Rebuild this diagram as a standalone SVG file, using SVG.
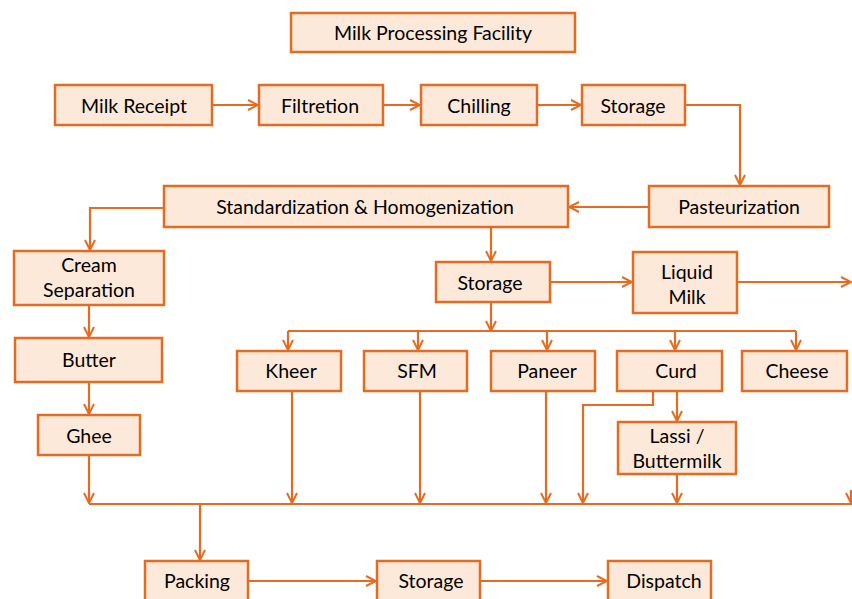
<svg xmlns="http://www.w3.org/2000/svg" width="852" height="599" viewBox="0 0 852 599">
  <defs>
    <marker id="arr" viewBox="0 0 12 12" refX="11" refY="6" markerWidth="12" markerHeight="12" markerUnits="userSpaceOnUse" orient="auto">
      <path d="M1,1 L11,6 L1,11" fill="none" stroke="#E46C22" stroke-width="2"/>
    </marker>
    <style>
      .box { fill: #FDE9D9; stroke: #E46C22; stroke-width: 2.5; }
      .lbl { font-family: Lato, "Open Sans", "Liberation Sans", sans-serif; font-size: 19.5px; fill: #000; text-anchor: middle; dominant-baseline: central; }
      .ln { fill: none; stroke: #E46C22; stroke-width: 2.2; }
      .ar { fill: none; stroke: #E46C22; stroke-width: 2.2; marker-end: url(#arr); }
    </style>
  </defs>
  <rect width="852" height="599" fill="#ffffff"/>

  <g id="connectors">
    <!-- intake line -->
    <path class="ar" d="M212,105 H258"/>
    <path class="ar" d="M383,105 H420"/>
    <path class="ar" d="M537,105 H581"/>
    <path class="ar" d="M685,105 H740 V185"/>
    <path class="ar" d="M649,207 H569"/>
    <!-- cream branch -->
    <path class="ar" d="M164,208 H90 V250"/>
    <path class="ar" d="M89,305 V337"/>
    <path class="ar" d="M89,382 V414"/>
    <path class="ar" d="M89,455 V503"/>
    <!-- milk branch -->
    <path class="ar" d="M491,227 V261"/>
    <path class="ar" d="M550,282 H632"/>
    <path class="ar" d="M737,282 H851"/>
    <path class="ar" d="M491,302 V331"/>
    <path class="ln" d="M288,331 H796"/>
    <path class="ar" d="M288,331 V350"/>
    <path class="ar" d="M418,331 V350"/>
    <path class="ar" d="M547,331 V350"/>
    <path class="ar" d="M675,331 V350"/>
    <path class="ar" d="M796,331 V350"/>
    <!-- product drops to collector -->
    <path class="ar" d="M292,391 V503"/>
    <path class="ar" d="M420,391 V503"/>
    <path class="ar" d="M546,391 V503"/>
    <path class="ar" d="M653,391 V405 H583 V503"/>
    <path class="ar" d="M677,391 V421"/>
    <path class="ar" d="M677,474 V503"/>
    <path class="ar" d="M851,490 V503"/>
    <!-- collector and dispatch line -->
    <path class="ln" d="M89,504 H852"/>
    <path class="ar" d="M200,504 V560"/>
    <path class="ar" d="M248,581 H376"/>
    <path class="ar" d="M480,581 H607"/>
  </g>

  <g id="title"><rect class="box" x="291" y="13" width="284" height="39"/><text class="lbl" x="433" y="32">Milk Processing Facility</text></g>
  <g id="milk-receipt"><rect class="box" x="55" y="85" width="157" height="40"/><text class="lbl" x="134" y="105">Milk Receipt</text></g>
  <g id="filtretion"><rect class="box" x="259" y="85" width="124" height="40"/><text class="lbl" x="320" y="105">Filtretion</text></g>
  <g id="chilling"><rect class="box" x="421" y="85" width="116" height="40"/><text class="lbl" x="479" y="105">Chilling</text></g>
  <g id="storage-1"><rect class="box" x="582" y="85" width="103" height="40"/><text class="lbl" x="633" y="105">Storage</text></g>
  <g id="pasteurization"><rect class="box" x="649" y="186" width="180" height="41"/><text class="lbl" x="739" y="206">Pasteurization</text></g>
  <g id="standardization"><rect class="box" x="164" y="186" width="404" height="41"/><text class="lbl" x="365" y="206">Standardization &amp; Homogenization</text></g>
  <g id="cream-separation"><rect class="box" x="14" y="251" width="150" height="54"/><text class="lbl" x="89" y="264">Cream</text><text class="lbl" x="89" y="289">Separation</text></g>
  <g id="butter"><rect class="box" x="15" y="338" width="147" height="44"/><text class="lbl" x="89" y="359">Butter</text></g>
  <g id="ghee"><rect class="box" x="38" y="415" width="102" height="40"/><text class="lbl" x="89" y="435">Ghee</text></g>
  <g id="storage-2"><rect class="box" x="436" y="262" width="114" height="40"/><text class="lbl" x="490" y="282">Storage</text></g>
  <g id="liquid-milk"><rect class="box" x="633" y="252" width="104" height="61"/><text class="lbl" x="687" y="271">Liquid</text><text class="lbl" x="687" y="296">Milk</text></g>
  <g id="kheer"><rect class="box" x="237" y="351" width="104" height="40"/><text class="lbl" x="291" y="370">Kheer</text></g>
  <g id="sfm"><rect class="box" x="364" y="351" width="103" height="40"/><text class="lbl" x="417" y="370">SFM</text></g>
  <g id="paneer"><rect class="box" x="491" y="351" width="104" height="40"/><text class="lbl" x="547" y="370">Paneer</text></g>
  <g id="curd"><rect class="box" x="617" y="351" width="105" height="40"/><text class="lbl" x="676" y="370">Curd</text></g>
  <g id="cheese"><rect class="box" x="742" y="351" width="105" height="40"/><text class="lbl" x="797" y="370">Cheese</text></g>
  <g id="lassi"><rect class="box" x="618" y="422" width="118" height="52"/><text class="lbl" x="677" y="435">Lassi /</text><text class="lbl" x="677" y="460">Buttermilk</text></g>
  <g id="packing"><rect class="box" x="145" y="561" width="103" height="44"/><text class="lbl" x="197" y="580">Packing</text></g>
  <g id="storage-3"><rect class="box" x="377" y="561" width="103" height="44"/><text class="lbl" x="431" y="580">Storage</text></g>
  <g id="dispatch"><rect class="box" x="608" y="561" width="103" height="44"/><text class="lbl" x="664" y="580">Dispatch</text></g>
</svg>
